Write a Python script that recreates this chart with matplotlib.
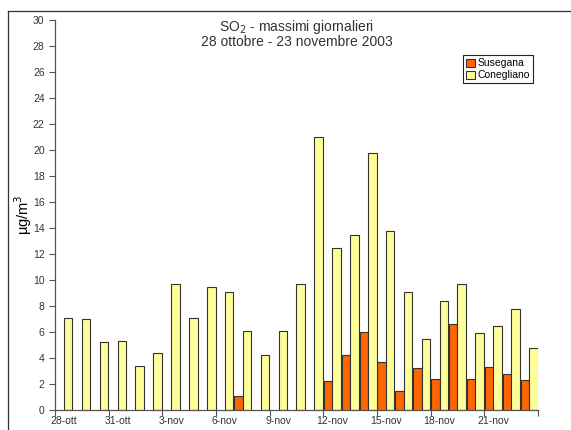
import numpy as np
import matplotlib
matplotlib.use("Agg")
import matplotlib.pyplot as plt
from matplotlib.lines import Line2D

plt.rcParams["font.family"] = ["Liberation Sans", "DejaVu Sans"]

# days from 28 ottobre to 23 novembre 2003
days = ["28-ott", "29-ott", "30-ott", "31-ott"] + [f"{d}-nov" for d in range(1, 24)]
tick_labels = ["28-ott", "31-ott", "3-nov", "6-nov", "9-nov", "12-nov", "15-nov", "18-nov", "21-nov"]

nan = np.nan
susegana = [nan, nan, nan, nan, nan, nan, nan, nan, nan, nan,
            1.1, nan, nan, nan, nan,
            2.2, 4.2, 6.0, 3.7, 1.5, 3.2, 2.4, 6.6, 2.4, 3.3, 2.8, 2.3]
conegliano = [7.1, 7.0, 5.2, 5.3, 3.4, 4.4, 9.7, 7.1, 9.5, 9.1,
              6.1, 4.2, 6.1, 9.7, 21.0,
              12.5, 13.5, 19.8, 13.8, 9.1, 5.5, 8.4, 9.7, 5.9, 6.5, 7.8, 4.8]

fig = plt.figure(figsize=(5.71, 4.30), dpi=100)
ax = fig.add_axes([0.0963, 0.0465, 0.8459, 0.907])

x = np.arange(len(days))
w = 0.475
ax.bar(x - w / 2, susegana, width=w, color="#FF6600", edgecolor="#333333", linewidth=0.8, label="Susegana")
ax.bar(x + w / 2, conegliano, width=w, color="#FFFF99", edgecolor="#333333", linewidth=0.8, label="Conegliano")

ax.set_xlim(-0.5, len(days) - 0.5)
ax.set_ylim(0, 30)
ax.set_yticks(range(0, 31, 2))
ax.set_xticks([days.index(t) for t in tick_labels])
ax.set_xticklabels(tick_labels)
ax.set_xticks(np.arange(-0.5, len(days), 3), minor=True)
ax.tick_params(axis="x", which="major", length=0, labelsize=7.5, colors="#333333", pad=4)
ax.tick_params(axis="x", which="minor", length=4, color="#555555", width=0.8)
ax.tick_params(axis="y", length=4, labelsize=7.5, colors="#333333", width=0.8)
ax.tick_params(axis="y", color="#555555")

for s in ["top", "right"]:
    ax.spines[s].set_visible(False)
for s in ["left", "bottom"]:
    ax.spines[s].set_color("#555555")
    ax.spines[s].set_linewidth(0.9)

ax.set_ylabel("µg/m$^3$", fontsize=10.5, va="center")
ax.yaxis.set_label_coords(-0.066, 0.5)

ax.text(0.5, 1.006, "SO$_2$ - massimi giornalieri", transform=ax.transAxes,
        ha="center", va="top", fontsize=10, color="#333333")
ax.text(0.5, 0.962, "28 ottobre - 23 novembre 2003", transform=ax.transAxes,
        ha="center", va="top", fontsize=10, color="#333333")

leg = ax.legend(loc="upper right", bbox_to_anchor=(0.99, 0.91), fontsize=7.5,
                fancybox=False, framealpha=1, edgecolor="#222222",
                handlelength=0.8, handleheight=0.8, handletextpad=0.3,
                borderpad=0.3, labelspacing=0.2, borderaxespad=0)
leg.get_frame().set_linewidth(0.8)

# outer chart frame (only top and left edges visible in the crop)
fig.add_artist(Line2D([8 / 571, 1], [1 - 11 / 430, 1 - 11 / 430], transform=fig.transFigure, color="#333333", lw=0.9))
fig.add_artist(Line2D([8 / 571, 8 / 571], [0, 1 - 11 / 430], transform=fig.transFigure, color="#333333", lw=0.9))

fig.savefig("out.png", dpi=100)
